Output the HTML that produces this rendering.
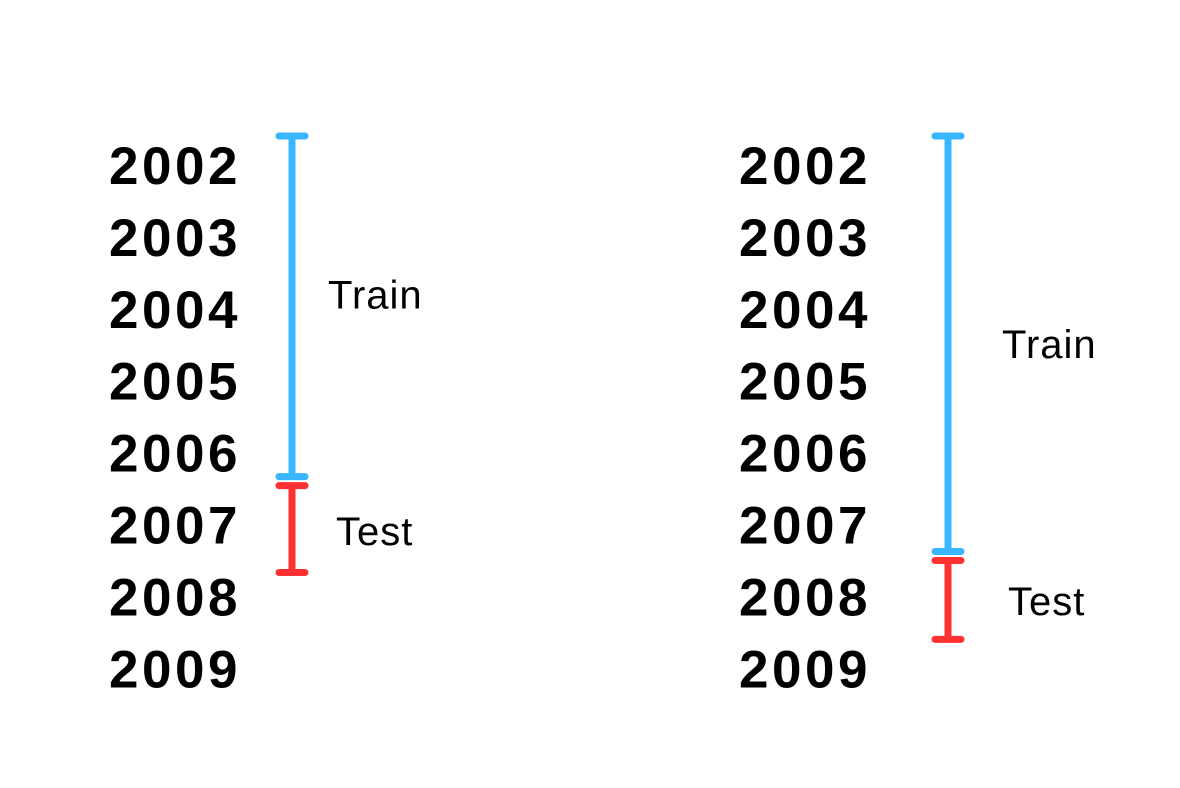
<!DOCTYPE html>
<html><head><meta charset="utf-8"><style>
html,body{margin:0;padding:0;background:#fff;}
svg{display:block;}
text{font-family:"Liberation Sans",sans-serif;}
</style></head><body>
<svg id="c" width="1180" height="788" viewBox="0 0 1180 788"></svg>
<script>
const years = [2002,2003,2004,2005,2006,2007,2008,2009];
const panelNames = ["split-2006","split-2007"];
const trainEnd = [2006, 2007];
const testEnd = [2007, 2008];
const labelX = [175, 805];
const barX = [292, 948];
const trainLabelDx = [36, 54];
const testLabelDx = [44, 60];
const svg = document.getElementById('c');
const NS = 'http://www.w3.org/2000/svg';
function y(yr){ return 165 + (yr - 2002) * 71.9; }
function mk(tag, attrs){ const e=document.createElementNS(NS,tag); for(const k in attrs) e.setAttribute(k,attrs[k]); svg.appendChild(e); return e; }
function seg(x, y1, y2, color, name){
  const g = document.createElementNS(NS,'g');
  
  
  svg.appendChild(g);
  [[x,y1,x,y2],[x-13,y1,x+13,y1],[x-13,y2,x+13,y2]].forEach(p=>{
    const l=document.createElementNS(NS,'line');
    l.setAttribute('x1',p[0]);l.setAttribute('y1',p[1]);l.setAttribute('x2',p[2]);l.setAttribute('y2',p[3]);
    l.setAttribute('stroke',color);l.setAttribute('stroke-width',7);l.setAttribute('stroke-linecap','round');
    g.appendChild(l);
  });
}
for(let p=0;p<2;p++){
  years.forEach(yr=>{
    const t = mk('text',{x:labelX[p], y:y(yr)+19, 'text-anchor':'middle', 'font-size':53, 'font-weight':'bold', fill:'#000', 'letter-spacing':3.5});
    t.textContent = yr;
    
    
  });
  const top = y(years[0]) - 29;
  const tEnd = y(trainEnd[p]) + 24 + p*3;
  const sStart = tEnd + 9;
  const sEnd = y(testEnd[p]) + 48 - p*5;
  seg(barX[p], top, tEnd, '#38b6ff', panelNames[p] + '-train-bar');
  seg(barX[p], sStart, sEnd, '#ff3131', panelNames[p] + '-test-bar');
  const tr = mk('text',{x:barX[p]+trainLabelDx[p], y:(top+tEnd)/2+14 - (p?0:12), 'font-size':40, fill:'#000', 'letter-spacing':1});
  tr.textContent='Train';
  
  
  const te = mk('text',{x:barX[p]+testLabelDx[p], y:(sStart+sEnd)/2+14 + (p?1:2), 'font-size':40, fill:'#000', 'letter-spacing':1});
  te.textContent='Test';
  
  
}
</script>
</body></html>
